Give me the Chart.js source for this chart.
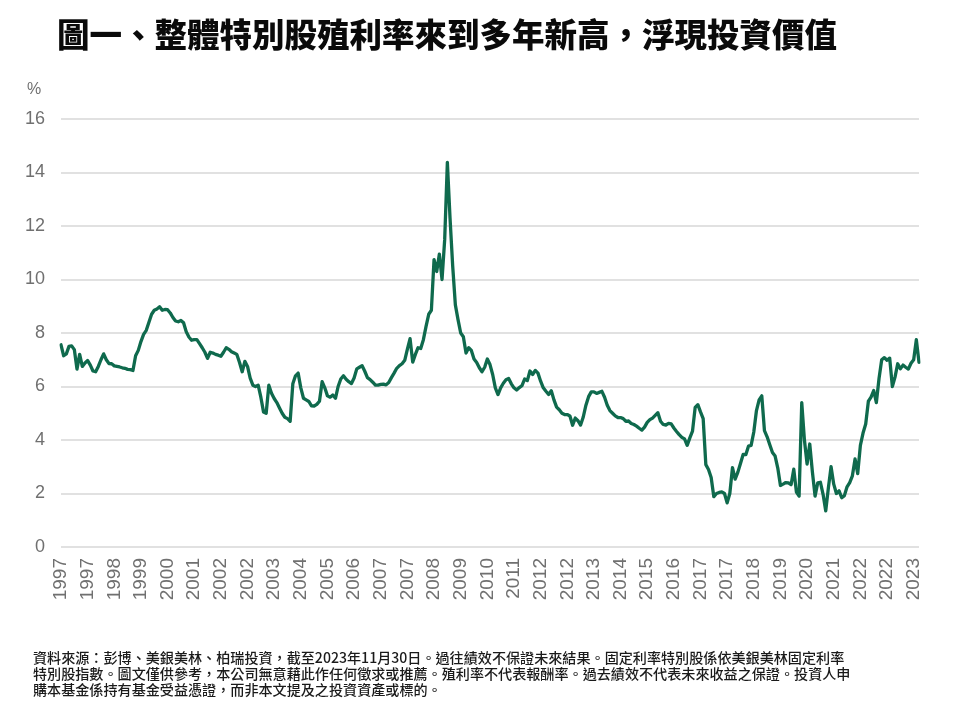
<!DOCTYPE html>
<html>
<head>
<meta charset="utf-8">
<script src="https://cdn.jsdelivr.net/npm/chart.js@4.4.1/dist/chart.umd.min.js"></script>
<style>
  html, body { margin: 0; padding: 0; background: #ffffff; }
  #wrap { position: relative; width: 960px; height: 720px; overflow: hidden; }
  #chart { position: absolute; left: 0; top: 0; }
  #title {
    position: absolute; left: 57px; top: 15px; margin: 0;
    font-family: "Noto Sans CJK TC", "Noto Sans CJK SC", sans-serif;
    font-weight: 900; font-size: 32.5px; line-height: 36px; color: #0a0a0a;
    white-space: nowrap;
  }
  #note {
    position: absolute; left: 33px; top: 649px; margin: 0;
    font-family: "Noto Sans CJK TC", "Noto Sans CJK SC", sans-serif;
    font-weight: 500; font-size: 14.1px; line-height: 16px; color: #1a1a1a; white-space: nowrap;
  }
</style>
</head>
<body>
<div id="wrap">
  <canvas id="chart" width="960" height="720"></canvas>
  <div id="title">圖一、整體特別股殖利率來到多年新高，浮現投資價值</div>
  <div id="note">資料來源：彭博、美銀美林、柏瑞投資，截至2023年11月30日。過往績效不保證未來結果。固定利率特別股係依美銀美林固定利率<br>特別股指數。圖文僅供參考，本公司無意藉此作任何徵求或推薦。殖利率不代表報酬率。過去績效不代表未來收益之保證。投資人申<br>購本基金係持有基金受益憑證，而非本文提及之投資資產或標的。</div>
</div>
<script>
// ---- Data (monthly, Jan 1997 – Nov 2023), yield in % ----
const startYear = 1997;
const yield1997to2005 = [
  7.56, 7.15, 7.22, 7.5, 7.52, 7.38, 6.65, 7.2, 6.75, 6.88,
  6.97, 6.8, 6.58, 6.55, 6.75, 7.0, 7.22, 7.0, 6.86, 6.85,
  6.77, 6.75, 6.73, 6.7, 6.68, 6.64, 6.63, 6.6, 7.15, 7.35,
  7.68, 7.95, 8.1, 8.4, 8.7, 8.85, 8.9, 8.98, 8.85, 8.88,
  8.87, 8.75, 8.58, 8.45, 8.42, 8.47, 8.38, 8.05, 7.85, 7.73,
  7.75, 7.75, 7.6, 7.45, 7.28, 7.05, 7.28, 7.25, 7.2, 7.17,
  7.13, 7.28, 7.45, 7.39, 7.3, 7.25, 7.2, 6.9, 6.55, 6.94,
  6.75, 6.31, 6.05, 6.0, 6.05, 5.6, 5.05, 5.0, 6.05, 5.75,
  5.55, 5.4, 5.2, 5.0, 4.85, 4.8, 4.7, 6.1, 6.4, 6.5,
  5.95, 5.56, 5.5, 5.44, 5.28, 5.27, 5.33, 5.45, 6.18, 5.95
];
const yield2005to2013 = [
  5.65, 5.6, 5.68, 5.56, 6.0, 6.28, 6.4, 6.27, 6.18, 6.11,
  6.32, 6.66, 6.72, 6.78, 6.57, 6.33, 6.26, 6.16, 6.05, 6.05,
  6.08, 6.09, 6.06, 6.15, 6.33, 6.5, 6.68, 6.78, 6.85, 6.98,
  7.4, 7.79, 6.91, 7.2, 7.45, 7.42, 7.75, 8.25, 8.7, 8.85,
  10.74, 10.3, 10.95, 10.0, 11.5, 14.38, 12.3, 10.5, 9.05, 8.5,
  8.0, 7.86, 7.25, 7.45, 7.35, 7.03, 6.9, 6.7, 6.55, 6.72,
  7.03, 6.82, 6.45, 5.95, 5.7, 5.95, 6.12, 6.25, 6.3, 6.1,
  5.95, 5.87, 5.96, 6.03, 6.28, 6.22, 6.58, 6.45, 6.6, 6.5,
  6.2, 5.95, 5.82, 5.7, 5.84, 5.5, 5.23, 5.13, 5.0, 4.95,
  4.95, 4.9, 4.55, 4.82, 4.72, 4.56, 4.86, 5.3, 5.62, 5.8
];
const yield2013to2023 = [
  5.8, 5.74, 5.78, 5.82, 5.6, 5.3, 5.1, 5.0, 4.9, 4.84,
  4.84, 4.8, 4.7, 4.71, 4.62, 4.58, 4.52, 4.44, 4.37, 4.48,
  4.66, 4.76, 4.82, 4.92, 5.02, 4.7, 4.58, 4.56, 4.62, 4.6,
  4.45, 4.32, 4.2, 4.1, 4.04, 3.8, 4.08, 4.33, 5.22, 5.32,
  5.05, 4.8, 3.08, 2.9, 2.6, 1.88, 2.0, 2.04, 2.06, 2.0,
  1.65, 2.0, 2.97, 2.54, 2.79, 3.12, 3.46, 3.45, 3.77, 3.8,
  4.3, 5.1, 5.5, 5.65, 4.35, 4.12, 3.82, 3.53, 3.4, 2.95,
  2.3, 2.35, 2.41, 2.4, 2.33, 2.91, 2.05, 1.9, 5.4, 4.0,
  3.1, 3.85, 2.8, 1.9, 2.4, 2.42, 1.97, 1.35, 2.22, 3.0,
  2.35, 2.0, 2.1, 1.84, 1.92, 2.25, 2.41, 2.66, 3.29, 2.74,
  3.8, 4.26, 4.6, 5.45, 5.6, 5.85, 5.4, 6.3, 7.0, 7.08,
  6.98, 7.06, 6.0, 6.35, 6.85, 6.66, 6.8, 6.72, 6.65, 6.87,
  7.0, 7.75, 6.9
];
const tickLabels = [
  '1997','1997','1998','1999','2000','2001','2002','2002','2003','2004',
  '2005','2006','2007','2007','2008','2009','2010','2011','2012','2012',
  '2013','2014','2015','2016','2017','2017','2018','2019','2020','2021',
  '2022','2022','2023'
];
const tickEvery = 10;
const yTicks = [0, 2, 4, 6, 8, 10, 12, 14, 16];
const unitLabel = '%';

const values = yield1997to2005.concat(yield2005to2013, yield2013to2023);
const monthLabels = values.map((v, i) => String(startYear + Math.floor(i / 12)));

const gray = '#707070';
const yTickFont = { family: '"Liberation Sans", Arial, sans-serif', size: 18 };
const xTickFont = { family: '"Liberation Sans", Arial, sans-serif', size: 19 };

const unitPlugin = {
  id: 'unitLabel',
  afterDraw(chart) {
    const ctx = chart.ctx;
    const a = chart.chartArea;
    ctx.save();
    ctx.font = '16px "Liberation Sans", Arial, sans-serif';
    ctx.fillStyle = gray;
    ctx.textAlign = 'left';
    ctx.textBaseline = 'middle';
    ctx.fillText(unitLabel, a.left - 34, a.top - 29);
    ctx.restore();
  }
};

new Chart(document.getElementById('chart'), {
  type: 'line',
  data: {
    labels: monthLabels,
    datasets: [{
      data: values,
      borderColor: '#0f6a4d',
      borderWidth: 3.3,
      pointRadius: 0,
      tension: 0,
      fill: false,
      borderJoinStyle: 'round',
      borderCapStyle: 'round'
    }]
  },
  options: {
    responsive: false,
    devicePixelRatio: 1,
    animation: false,
    layout: { padding: { top: 119, bottom: 113, left: 0, right: 41 } },
    plugins: { legend: { display: false }, tooltip: { enabled: false }, title: { display: false } },
    scales: {
      x: {
        type: 'category',
        offset: false,
        grid: { display: false, drawTicks: false },
        border: { display: false },
        afterBuildTicks(axis) {
          axis.ticks = axis.ticks.filter(t => t.value % tickEvery === 0);
        },
        afterFit(axis) { axis.height = 60; },
        ticks: {
          autoSkip: false,
          minRotation: 90,
          maxRotation: 90,
          padding: 11,
          color: gray,
          font: xTickFont,
          callback(value) { return tickLabels[value / tickEvery]; }
        }
      },
      y: {
        min: 0,
        max: 16,
        afterBuildTicks(axis) { axis.ticks = yTicks.map(v => ({ value: v })); },
        afterFit(axis) { axis.width = 61; },
        grid: { color: '#e1e1e1', lineWidth: 2, drawTicks: false },
        border: { display: false },
        ticks: {
          padding: 16,
          color: gray,
          font: yTickFont,
          callback(value) { return String(value); }
        }
      }
    }
  },
  plugins: [unitPlugin]
});
</script>
</body>
</html>
